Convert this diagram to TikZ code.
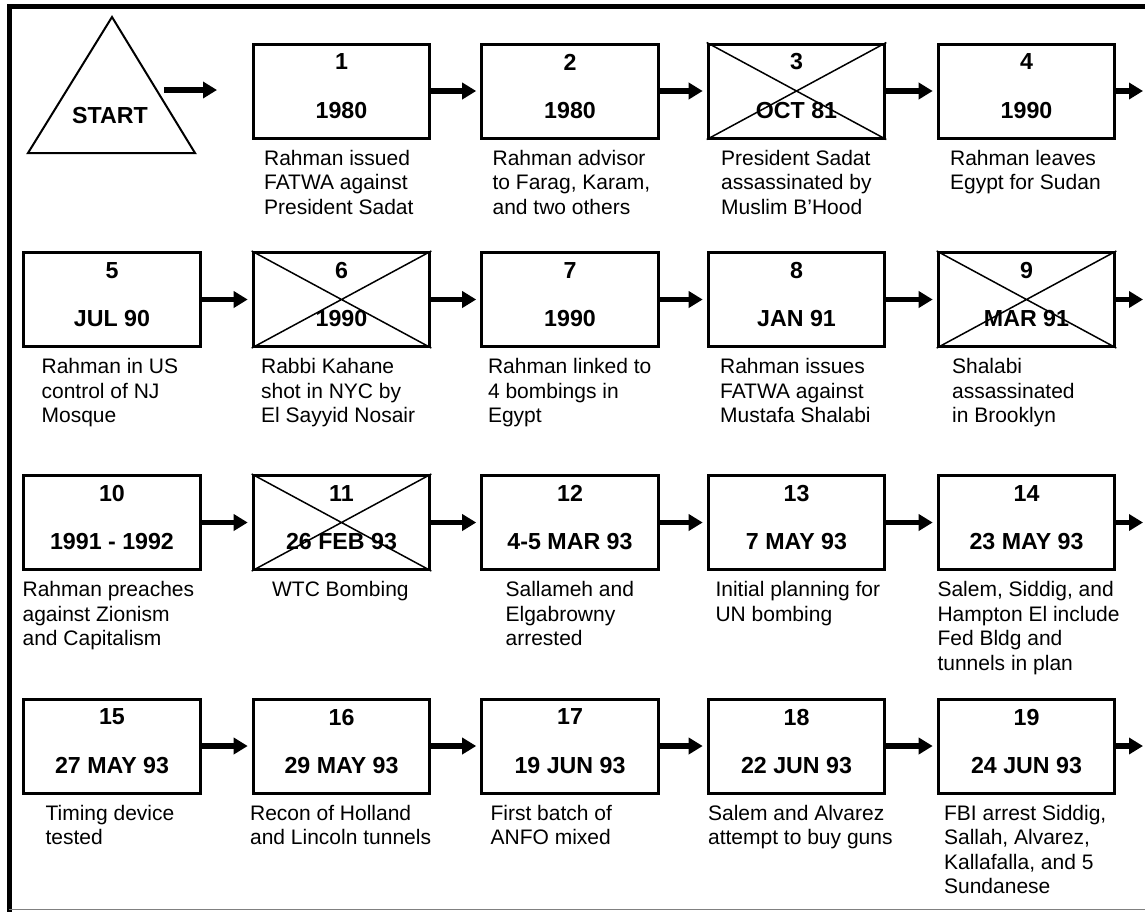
\documentclass[tikz,border=0pt]{standalone}
\usepackage{fontspec}
\setmainfont{Liberation Sans}
\usetikzlibrary{arrows.meta}
\tikzset{
  event-box/.style={
    draw=black,
    line width=1.5pt,
    minimum width=88.3pt,
    minimum height=47pt,
    inner sep=0pt
  },
  event-num/.style={font=\fontsize{11.6}{13}\selectfont\bfseries, inner sep=0pt},
  event-date/.style={event-num},
  event-text/.style={
    font=\fontsize{10.5}{12.25}\selectfont,
    align=left,
    anchor=north west,
    inner sep=0pt
  },
  link/.style={line width=2.8pt, -{Triangle[length=7pt,width=8pt]}},
  cross/.style={line width=0.75pt},
  start-tri/.style={line width=1pt, line join=miter},
  frame-line/.style={line width=2.5pt}
}
\newcommand{\eventbox}[6]{
  \node[event-box] (#1) at (#2) {};
  \node[event-num] (#1-num) at ([yshift=-9.75pt]#1.north) {#3};
  \node[event-date] (#1-date) at ([yshift=-34pt]#1.north) {#4};
  \node[event-text] (#1-text) at ([shift={(#5pt,-5pt)}]#1.south west) {#6};
}
\newcommand{\crossout}[1]{
  \draw[cross] (#1.north west) -- (#1.south east) (#1.south west) -- (#1.north east);
}

\begin{document}
\begin{tikzpicture}[x=0.5pt, y=-0.5pt]
  \useasboundingbox (0,0) rectangle (1145,911);
  % Frame
  \draw[frame-line] (9.2,915) -- (9.2,6.7) -- (1150,6.7);
  \draw[gray, line width=0.8pt] (9,909.5) -- (1150,909.5);
  % Start
  \draw[start-tri] (112,17) -- (195,153) -- (28,153) -- cycle;
  \node[event-num] (start) at (110,115.5) {START};
  \coordinate (start-out) at (164,90);
  \coordinate (start-in) at (217,90);
  \draw[link] (start-out) -- (start-in);
  % Row 1
  \eventbox{b1}{341.5,91}{1}{1980}{6}{Rahman issued\\FATWA against\\President Sadat}
  \eventbox{b2}{570,91}{2}{1980}{6}{Rahman advisor\\to Farag, Karam,\\and two others}
  \eventbox{b3}{796.5,91}{3}{OCT 81}{7}{President Sadat\\assassinated by\\Muslim B’Hood}
  \eventbox{b4}{1026.5,91}{4}{1990}{6.5}{Rahman leaves\\Egypt for Sudan}
  \crossout{b3}
  \coordinate (r1-end) at (1143,91);
  % Row 2
  \eventbox{b5}{112,299.5}{5}{JUL 90}{9.5}{Rahman in US\\control of NJ\\Mosque}
  \eventbox{b6}{341.5,299.5}{6}{1990}{4.5}{Rabbi Kahane\\shot in NYC by\\El Sayyid Nosair}
  \eventbox{b7}{570,299.5}{7}{1990}{3.7}{Rahman linked to\\4 bombings in\\Egypt}
  \eventbox{b8}{796.5,299.5}{8}{JAN 91}{6.5}{Rahman issues\\FATWA against\\Mustafa Shalabi}
  \eventbox{b9}{1026.5,299.5}{9}{MAR 91}{7.5}{Shalabi\\assassinated\\in Brooklyn}
  \crossout{b6}
  \crossout{b9}
  \coordinate (r2-end) at (1143,299.5);
  % Row 3
  \eventbox{b10}{112,522.5}{10}{1991 - 1992}{0}{Rahman preaches\\against Zionism\\and Capitalism}
  \eventbox{b11}{341.5,522.5}{11}{26 FEB 93}{10}{WTC Bombing}
  \eventbox{b12}{570,522.5}{12}{4-5 MAR 93}{12.5}{Sallameh and\\Elgabrowny\\arrested}
  \eventbox{b13}{796.5,522.5}{13}{7 MAY 93}{4.2}{Initial planning for\\UN bombing}
  \eventbox{b14}{1026.5,522.5}{14}{23 MAY 93}{0.2}{Salem, Siddig, and\\Hampton El include\\Fed Bldg and\\tunnels in plan}
  \crossout{b11}
  \coordinate (r3-end) at (1143,522.5);
  % Row 4
  \eventbox{b15}{112,746}{15}{27 MAY 93}{11.5}{Timing device\\tested}
  \eventbox{b16}{341.5,746}{16}{29 MAY 93}{-1}{Recon of Holland\\and Lincoln tunnels}
  \eventbox{b17}{570,746}{17}{19 JUN 93}{5}{First batch of\\ANFO mixed}
  \eventbox{b18}{796.5,746}{18}{22 JUN 93}{0.5}{Salem and Alvarez\\attempt to buy guns}
  \eventbox{b19}{1026.5,746}{19}{24 JUN 93}{3.5}{FBI arrest Siddig,\\Sallah, Alvarez,\\Kallafalla, and 5\\Sundanese}
  \coordinate (r4-end) at (1143,746);
  % Links
  \draw[link] (b1.east) -- ([xshift=-2pt]b2.west);
  \draw[link] (b2.east) -- ([xshift=-2pt]b3.west);
  \draw[link] (b3.east) -- ([xshift=-2pt]b4.west);
  \draw[link] (b4.east) -- (r1-end);
  \draw[link] (b5.east) -- ([xshift=-2pt]b6.west);
  \draw[link] (b6.east) -- ([xshift=-2pt]b7.west);
  \draw[link] (b7.east) -- ([xshift=-2pt]b8.west);
  \draw[link] (b8.east) -- ([xshift=-2pt]b9.west);
  \draw[link] (b9.east) -- (r2-end);
  \draw[link] (b10.east) -- ([xshift=-2pt]b11.west);
  \draw[link] (b11.east) -- ([xshift=-2pt]b12.west);
  \draw[link] (b12.east) -- ([xshift=-2pt]b13.west);
  \draw[link] (b13.east) -- ([xshift=-2pt]b14.west);
  \draw[link] (b14.east) -- (r3-end);
  \draw[link] (b15.east) -- ([xshift=-2pt]b16.west);
  \draw[link] (b16.east) -- ([xshift=-2pt]b17.west);
  \draw[link] (b17.east) -- ([xshift=-2pt]b18.west);
  \draw[link] (b18.east) -- ([xshift=-2pt]b19.west);
  \draw[link] (b19.east) -- (r4-end);
\end{tikzpicture}
\end{document}
